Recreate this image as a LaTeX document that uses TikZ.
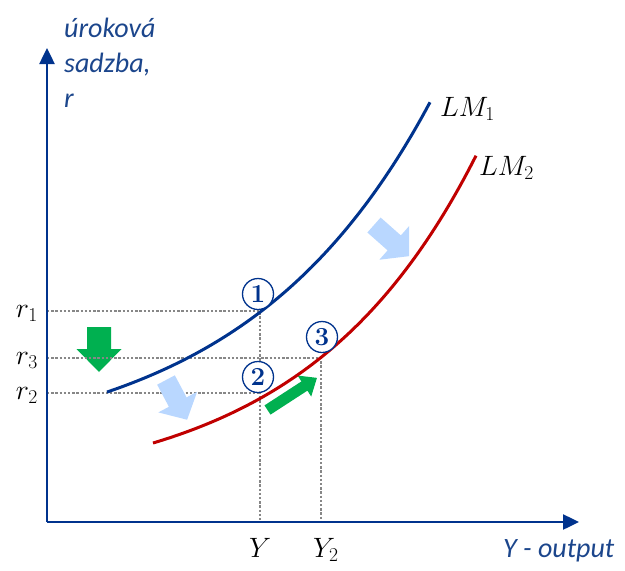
\RequirePackage{fix-cm}
\documentclass[tikz,border=0pt]{standalone}
\usepackage{fontspec}
\newfontfamily\calfont{Carlito}
\usetikzlibrary{arrows.meta,calc}
\definecolor{osBlue}{RGB}{0,51,141}
\definecolor{txtBlue}{RGB}{28,70,140}
\definecolor{lmRed}{RGB}{192,0,0}
\definecolor{posunGreen}{RGB}{0,176,80}
\definecolor{posunBlue}{RGB}{185,215,255}
\definecolor{vodGray}{RGB}{135,135,135}

% block arrow: tail, angle, length, shaft, head width, head length, colour
\newcommand{\blkarrow}[7]{%
  \fill[#7,shift={(#1)},rotate=#2] (0,-#4/2) -- (#3-#6,-#4/2) -- (#3-#6,-#5/2)
    -- (#3,0) -- (#3-#6,#5/2) -- (#3-#6,#4/2) -- (0,#4/2) -- cycle;}

\begin{document}
\begin{tikzpicture}[x=1pt,y=-1pt,
    axis/.style={osBlue,line width=2.5pt,-{Triangle[length=16pt,width=15pt]}},
    lm/.style={line width=3pt,samples=80},
    vod/.style={vodGray,line width=2.6pt,dash pattern=on 2.4pt off 1.8pt},
    bod/.style={circle,draw=osBlue,fill=white,line width=1.3pt,minimum size=31pt,inner sep=0pt,
      text=osBlue,font=\fontsize{26}{28}\selectfont\bfseries},
    mlab/.style={inner sep=0pt,font=\fontsize{28}{34}\selectfont},
    blab/.style={inner sep=0pt,text=txtBlue,font=\fontsize{28}{35}\selectfont\calfont\itshape}]
  \useasboundingbox (0,0) rectangle (625,571);
  \coordinate (O) at (47,522);
  \coordinate (yTop) at (47,48);
  \coordinate (xEnd) at (579,522);
  \coordinate (E1) at (260,311);
  \coordinate (E2) at (260,393);
  \coordinate (E3) at (321,358);

  % green down shift
  \blkarrow{99,327}{-90}{45}{24}{45}{23}{posunGreen}

  % guide lines
  \draw[vod] (E1 -| O) -- (E1) -- (E1 |- O);
  \draw[vod] (E3 -| O) -- (E3) -- (E3 |- O);
  \draw[vod] (E2 -| O) -- (E2);

  % LM shift arrows
  \blkarrow{166,380}{-62}{45}{20}{44}{20}{posunBlue}
  \blkarrow{374,225}{-41.5}{47}{20}{45}{20}{posunBlue}
  \blkarrow{267.5,410}{33}{59}{11}{25}{15}{posunGreen}

  % curves
  \draw[lm,osBlue] plot[domain=107:430] (\x,{456-36.3*exp(0.0053*\x)});
  \draw[lm,lmRed] plot[domain=153:476] (\x,{494.3-20.97*exp(0.00585*\x)});

  % axes
  \draw[axis] (O) -- (yTop);
  \draw[axis] (O) -- (xEnd);

  \node[blab,anchor=north west,align=left] (ylab) at (64,18) {úroková\\sadzba,\\r};
  \node[blab,anchor=base west] (xlab) at (503,557) {Y - output};

  \node[mlab,anchor=base east] (r1) at (38,317) {$r_1$};
  \node[mlab,anchor=base east] (r3) at (38,364) {$r_3$};
  \node[mlab,anchor=base east] (r2) at (38,399) {$r_2$};
  \node[mlab,anchor=base] (y1) at (260,557) {$Y$};
  \node[mlab,anchor=base west] (y2) at (313,557) {$Y_2$};
  \node[mlab,anchor=base west] (lm1) at (440,116) {$LM_1$};
  \node[mlab,anchor=base west] (lm2) at (479,175) {$LM_2$};

  \node[bod] (b1) at (258,294) {1};
  \node[bod] (b2) at (258,377) {2};
  \node[bod] (b3) at (322,337) {3};
\end{tikzpicture}
\end{document}
